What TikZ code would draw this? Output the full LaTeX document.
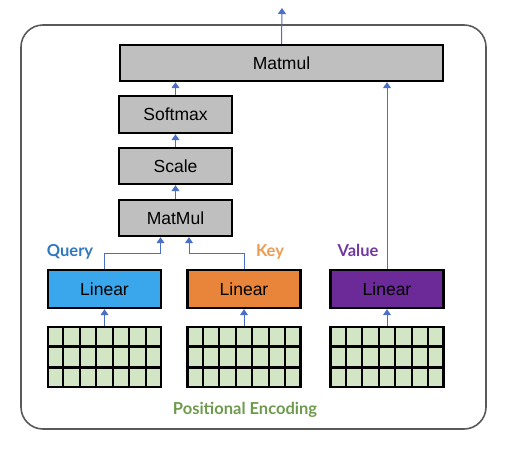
\documentclass[tikz,border=0pt]{standalone}
\usepackage{fontspec}
\setmainfont{Liberation Sans}
\newfontfamily\tagfont{Lato}
\usetikzlibrary{positioning}
\usetikzlibrary{calc}
\usetikzlibrary{arrows.meta}
\definecolor{opgray}{HTML}{BFBFBF}
\definecolor{qblue}{HTML}{3AA7EC}
\definecolor{korange}{HTML}{E8853B}
\definecolor{vpurple}{HTML}{6C2A98}
\definecolor{pegreen}{HTML}{D2E6C5}
\definecolor{flowblue}{HTML}{4A6FC7}
\definecolor{qtext}{HTML}{2E78C0}
\definecolor{ktext}{HTML}{EE9A50}
\definecolor{vtext}{HTML}{7138A0}
\definecolor{petext}{HTML}{6E9A4E}
\tikzset{%
  flow/.style = {-{Triangle[width=8pt,length=6pt]},flowblue,line width=1pt},
  op/.style = {rectangle,draw,line width=2.4pt,fill=opgray,
        minimum width=113pt,minimum height=36pt,inner sep=0pt,
        font=\fontsize{17.5}{19}\selectfont},
  lin/.style = {op,minimum height=38pt},
  pe/.style = {rectangle,draw,line width=2.4pt,fill=pegreen,
        minimum width=113pt,minimum height=60pt,inner sep=0pt},
  tag/.style = {font=\tagfont\bfseries\fontsize{16.5}{18}\selectfont}
}

\begin{document}
\begin{tikzpicture}[x=1pt,y=-1pt]
    \useasboundingbox (0,0) rectangle (526,453);
    \draw[line width=1.6pt,black!65,rounded corners=22pt] (21,25) rectangle (486,429);
    % attention stack
    \node[op,minimum width=323pt] (big) at (281.5,63) {Matmul};
    \node[op,minimum height=37pt] (softmax) at (175.5,114.5) {Softmax};
    \node[op] (scale) at (175.5,166) {Scale};
    \node[op] (mm) at (175.5,218) {MatMul};
    \coordinate (out) at (282,8);
    % projections
    \node[lin,fill=qblue] (qlin) at (104.5,289) {Linear};
    \node[lin,fill=korange] (klin) at (244,289) {Linear};
    \node[lin,fill=vpurple] (vlin) at (387,289) {Linear};
    \node[pe] (qpe) at (104.5,357) {};
    \node[pe] (kpe) at (244,357) {};
    \node[pe] (vpe) at (387,357) {};
    \foreach \g in {qpe,kpe,vpe}{
        \foreach \i in {1,...,6}
            \draw[line width=2.4pt] ($(\g.north west)!\i/7!(\g.north east)$) -- ($(\g.south west)!\i/7!(\g.south east)$);
        \foreach \j in {1,2}
            \draw[line width=2.4pt] ($(\g.north west)!\j/3!(\g.south west)$) -- ($(\g.north east)!\j/3!(\g.south east)$);
        \draw[flow] (\g.north) -- (\g.north |- qlin.south);
    }
    % labels
    \node[tag,text=qtext] (query) at (70,252) {Query};
    \node[tag,text=ktext] (key) at (270,252) {Key};
    \node[tag,text=vtext] (value) at (358,250) {Value};
    \node[tag,text=petext] (poslabel) at (245,410) {Positional Encoding};
    % connectors
    \draw[flow] (qlin.north) -- ++(0,-15) -| ([xshift=-15pt]mm.south);
    \draw[flow] (klin.north) -- ++(0,-15) -| ([xshift=13.5pt]mm.south);
    \draw[flow] (mm.north) -- (scale.south);
    \draw[flow] (scale.north) -- (softmax.south);
    \draw[flow] (softmax.north) -- (softmax.north |- big.south);
    \draw[flow] (vlin.north) -- (vlin.north |- big.south);
    \draw[flow] (big.north) -- (out);
\end{tikzpicture}
\end{document}
